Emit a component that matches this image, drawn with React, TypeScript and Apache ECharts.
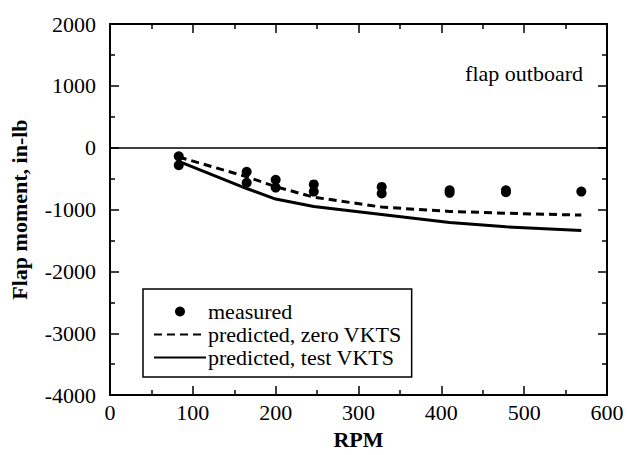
import React, { useEffect, useRef } from "react";
import * as echarts from "echarts";

const measuredRpm = [83, 83, 165, 165, 200, 200, 246, 246, 328, 328, 410, 410, 478, 478, 569];
const measuredVal = [-140, -284, -390, -566, -518, -645, -593, -709, -634, -741, -688, -730, -688, -720, -709];

const predRpm = [83, 165, 200, 246, 328, 410, 478, 569];
const zeroVkts = [-150, -470, -630, -800, -960, -1030, -1060, -1090];
const testVkts = [-220, -660, -830, -950, -1080, -1210, -1280, -1340];

const FONT = "Liberation Serif";

export default function App() {
  const ref = useRef<HTMLDivElement>(null);
  useEffect(() => {
    if (!ref.current) return;
    const chart = echarts.init(ref.current, undefined, { renderer: "svg" });
    const axisLine = { show: true, onZero: false, lineStyle: { color: "#000", width: 2 } };
    const tick = { show: true, inside: true, length: 9, lineStyle: { color: "#000", width: 1.5 } };
    const minor = { show: true, splitNumber: 2, length: 5, lineStyle: { color: "#000", width: 1.5 } };
    const fmt = (v: number) => String(v);
    chart.setOption({
      animation: false,
      backgroundColor: "#fff",
      grid: { left: 107, right: 21, top: 24, bottom: 55, containLabel: false },
      xAxis: [
        {
          type: "value", min: 0, max: 600, interval: 100,
          axisLine, axisTick: tick, minorTick: minor, splitLine: { show: false },
          axisLabel: { color: "#000", fontFamily: FONT, fontSize: 22, margin: 6, formatter: fmt },
          name: "RPM", nameLocation: "middle", nameGap: 30,
          nameTextStyle: { color: "#000", fontFamily: FONT, fontSize: 22, fontWeight: "bold" },
        },
        {
          type: "value", position: "top", min: 0, max: 600, interval: 100,
          axisLine, axisTick: tick, minorTick: minor, splitLine: { show: false },
          axisLabel: { show: false },
        },
      ],
      yAxis: [
        {
          type: "value", min: -4000, max: 2000, interval: 1000,
          axisLine, axisTick: tick, minorTick: minor, splitLine: { show: false },
          axisLabel: { color: "#000", fontFamily: FONT, fontSize: 22, margin: 14, formatter: fmt },
          name: "Flap moment, in-lb", nameLocation: "middle", nameGap: 80,
          nameTextStyle: { color: "#000", fontFamily: FONT, fontSize: 22, fontWeight: "bold" },
        },
        {
          type: "value", position: "right", min: -4000, max: 2000, interval: 1000,
          axisLine, axisTick: tick, minorTick: minor, splitLine: { show: false },
          axisLabel: { show: false },
        },
      ],
      legend: {
        orient: "vertical", left: 143, top: 289,
        borderColor: "#000", borderWidth: 1.5, padding: [11, 10, 8, 10],
        itemWidth: 52, itemHeight: 10, itemGap: 0,
        textStyle: { color: "#000", fontFamily: FONT, fontSize: 22, lineHeight: 23, padding: [0, 0, 0, -3] },
        data: [
          { name: "measured", icon: "circle", itemStyle: { color: "#000", opacity: 1 } },
          { name: "predicted, zero VKTS", itemStyle: { opacity: 0 } },
          { name: "predicted, test VKTS", itemStyle: { opacity: 0 } },
        ],
      },
      graphic: [
        {
          type: "text", right: 45, top: 62,
          style: { text: "flap outboard", fill: "#000", font: `22px "${FONT}"` },
        },
      ],
      series: [
        {
          name: "measured", type: "scatter", symbol: "circle", symbolSize: 10,
          itemStyle: { color: "#000", opacity: 1 },
          data: measuredRpm.map((r, i) => [r, measuredVal[i]]),
          z: 5,
          markLine: {
            silent: true, symbol: "none", label: { show: false },
            lineStyle: { color: "#000", width: 1.5, type: "solid" },
            data: [{ yAxis: 0 }],
          },
        },
        {
          name: "predicted, zero VKTS", type: "line", symbol: "none",
          lineStyle: { color: "#000", width: 3, type: [8, 5] },
          itemStyle: { color: "#000" },
          data: predRpm.map((r, i) => [r, zeroVkts[i]]),
        },
        {
          name: "predicted, test VKTS", type: "line", symbol: "none",
          lineStyle: { color: "#000", width: 3, type: "solid" },
          itemStyle: { color: "#000" },
          data: predRpm.map((r, i) => [r, testVkts[i]]),
        },
      ],
    });
    return () => chart.dispose();
  }, []);
  return <div ref={ref} style={{ width: 628, height: 455, position: "absolute", left: 0, top: 0 }} />;
}
